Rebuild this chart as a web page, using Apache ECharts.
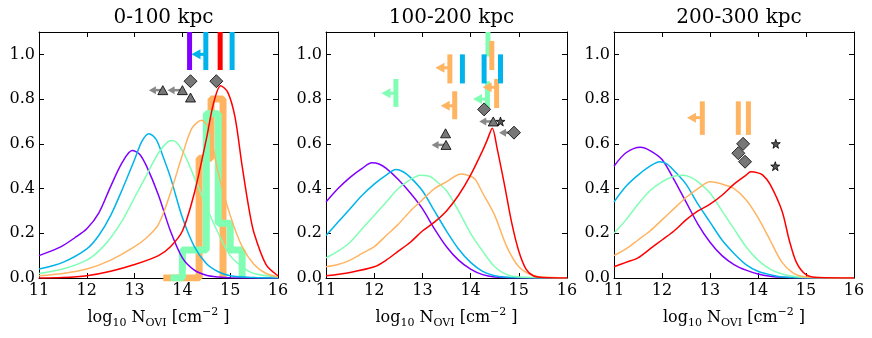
<!DOCTYPE html>
<html><head><meta charset="utf-8">
<script src="https://cdn.jsdelivr.net/npm/echarts@6/dist/echarts.min.js"></script>
<style>html,body{margin:0;padding:0;background:#fff}#c{width:872px;height:338px}</style>
</head><body><div id="c"></div>
<script>
// ---------- data ----------
const panelTitles = ['0-100 kpc', '100-200 kpc', '200-300 kpc'];
const xTicks = [11, 12, 13, 14, 15, 16];
const yTicks = [0.0, 0.2, 0.4, 0.6, 0.8, 1.0];
const curveNames = ['purple', 'blue', 'green', 'orange', 'red'];

// panel 1 (0-100 kpc) distributions [logN, fraction]
const p1Purple = [[11,0.10],[11.25,0.12],[11.5,0.145],[11.75,0.18],[12,0.22],[12.25,0.29],[12.5,0.41],[12.75,0.52],[12.95,0.57],[13.1,0.555],[13.25,0.50],[13.5,0.37],[13.75,0.21],[14,0.09],[14.25,0.035],[14.5,0.012],[14.75,0.004],[15,0.001],[16,0]];
const p1Blue = [[11,0.04],[11.5,0.07],[12,0.13],[12.25,0.19],[12.5,0.28],[12.75,0.40],[13,0.53],[13.15,0.61],[13.3,0.645],[13.45,0.62],[13.6,0.54],[13.75,0.45],[14,0.27],[14.25,0.14],[14.5,0.065],[14.75,0.028],[15,0.01],[15.5,0.002],[16,0]];
const p1Green = [[11,0.02],[11.5,0.04],[12,0.08],[12.25,0.12],[12.5,0.18],[12.75,0.26],[13,0.36],[13.25,0.46],[13.5,0.56],[13.7,0.61],[13.8,0.615],[14,0.57],[14.25,0.45],[14.5,0.32],[14.75,0.20],[15,0.10],[15.25,0.05],[15.5,0.02],[16,0.004]];
const p1Orange = [[11,0.01],[11.5,0.02],[12,0.04],[12.5,0.08],[13,0.14],[13.25,0.18],[13.5,0.24],[13.75,0.38],[14,0.55],[14.2,0.67],[14.4,0.705],[14.55,0.67],[14.75,0.47],[15,0.28],[15.25,0.14],[15.5,0.06],[15.75,0.02],[16,0.005]];
const p1Red = [[11,0.0],[11.5,0.002],[12,0.01],[12.5,0.03],[13,0.06],[13.5,0.10],[13.75,0.14],[14,0.21],[14.25,0.38],[14.5,0.62],[14.65,0.78],[14.8,0.86],[14.95,0.83],[15.1,0.72],[15.25,0.50],[15.4,0.30],[15.5,0.20],[15.75,0.06],[16,0.01]];

// panel 2 (100-200 kpc)
const p2Purple = [[11,0.34],[11.25,0.40],[11.5,0.45],[11.75,0.49],[11.95,0.515],[12.1,0.51],[12.25,0.49],[12.5,0.44],[12.75,0.38],[13,0.31],[13.25,0.22],[13.5,0.14],[13.75,0.08],[14,0.04],[14.25,0.015],[14.5,0.005],[15,0.001],[16,0]];
const p2Blue = [[11,0.19],[11.25,0.25],[11.5,0.31],[11.75,0.37],[12,0.42],[12.25,0.46],[12.45,0.485],[12.6,0.475],[12.75,0.45],[13,0.39],[13.25,0.30],[13.5,0.21],[13.75,0.13],[14,0.07],[14.25,0.03],[14.5,0.01],[14.75,0.003],[16,0]];
const p2Green = [[11,0.09],[11.25,0.12],[11.5,0.16],[11.75,0.22],[12,0.28],[12.25,0.34],[12.5,0.40],[12.75,0.44],[12.95,0.46],[13.15,0.455],[13.25,0.44],[13.5,0.39],[13.75,0.30],[14,0.20],[14.25,0.12],[14.5,0.05],[14.75,0.015],[15,0.004],[16,0]];
const p2Orange = [[11,0.05],[11.25,0.06],[11.5,0.08],[11.75,0.11],[12,0.14],[12.25,0.19],[12.5,0.24],[12.75,0.30],[13,0.35],[13.25,0.40],[13.5,0.43],[13.8,0.465],[14,0.455],[14.1,0.44],[14.25,0.38],[14.5,0.28],[14.75,0.14],[15,0.05],[15.25,0.015],[15.5,0.004],[16,0]];
const p2Red = [[11,0.01],[11.5,0.025],[12,0.05],[12.25,0.08],[12.5,0.12],[12.75,0.16],[13,0.21],[13.25,0.25],[13.5,0.30],[13.75,0.37],[14,0.46],[14.25,0.57],[14.35,0.62],[14.45,0.67],[14.55,0.58],[14.7,0.42],[14.85,0.25],[15,0.12],[15.15,0.04],[15.3,0.01],[15.5,0.002],[16,0]];

// panel 3 (200-300 kpc)
const p3Purple = [[11,0.50],[11.25,0.56],[11.55,0.585],[11.75,0.57],[12,0.53],[12.25,0.44],[12.5,0.34],[12.75,0.24],[13,0.16],[13.25,0.10],[13.5,0.06],[13.75,0.035],[14,0.018],[14.25,0.008],[14.5,0.003],[15,0.0005],[16,0]];
const p3Blue = [[11,0.34],[11.25,0.41],[11.5,0.46],[11.75,0.50],[11.95,0.52],[12.1,0.51],[12.25,0.48],[12.5,0.42],[12.75,0.33],[13,0.25],[13.25,0.17],[13.5,0.11],[13.75,0.06],[14,0.03],[14.25,0.015],[14.5,0.005],[15,0.001],[16,0]];
const p3Green = [[11,0.20],[11.25,0.26],[11.5,0.33],[11.75,0.39],[12,0.43],[12.25,0.455],[12.45,0.46],[12.6,0.45],[12.75,0.43],[13,0.38],[13.25,0.30],[13.5,0.22],[13.75,0.14],[14,0.08],[14.25,0.04],[14.5,0.018],[14.75,0.007],[15,0.002],[16,0]];
const p3Orange = [[11,0.10],[11.25,0.13],[11.5,0.17],[11.75,0.21],[12,0.26],[12.25,0.31],[12.5,0.36],[12.75,0.40],[13,0.43],[13.25,0.42],[13.5,0.40],[13.75,0.35],[14,0.27],[14.25,0.17],[14.5,0.07],[14.75,0.02],[15,0.004],[16,0]];
const p3Red = [[11,0.05],[11.25,0.07],[11.5,0.09],[11.75,0.13],[12,0.17],[12.25,0.21],[12.5,0.26],[12.75,0.30],[13,0.33],[13.25,0.37],[13.5,0.42],[13.75,0.46],[13.85,0.475],[14,0.47],[14.1,0.46],[14.25,0.42],[14.5,0.30],[14.65,0.17],[14.8,0.07],[15,0.015],[15.25,0.002],[16,0]];

// panel 1 histograms: bin edges and heights
const p1OrangeHistEdges = [13.6, 13.85, 14.1, 14.35, 14.6, 14.85];
const p1OrangeHistVals = [0, 0, 0, 0.535, 0.80];
const p1GreenHistEdges = [13.75, 14.0, 14.25, 14.5, 14.75, 15.0, 15.25];
const p1GreenHistVals = [0, 0.125, 0.125, 0.735, 0.245, 0.125];

// vertical bars [x, yLow, yHigh] per colour, and bar arrows [x, y, tipX]
const p1Bars = {purple: [[14.15, 0.93, 1.1]], blue: [[14.49, 0.93, 1.1], [15.04, 0.93, 1.1]], red: [[14.79, 0.93, 1.1]]};
const p1BarArrows = {blue: [[14.49, 1.0, 14.19]]};
const p2Bars = {
  green: [[12.45, 0.765, 0.89], [14.36, 0.99, 1.1], [14.35, 0.76, 0.88]],
  orange: [[13.57, 0.87, 1.0], [13.67, 0.71, 0.835], [14.44, 0.93, 1.06], [14.54, 0.76, 0.89]],
  blue: [[13.83, 0.87, 1.0], [14.28, 0.87, 1.0], [14.62, 0.87, 1.0]]
};
const p2BarArrows = {
  green: [[12.45, 0.826, 12.15], [14.35, 0.80, 14.05]],
  orange: [[13.57, 0.94, 13.27], [13.67, 0.77, 13.38], [14.54, 0.853, 14.25]]
};
const p3Bars = {orange: [[12.84, 0.64, 0.79], [13.59, 0.64, 0.79], [13.80, 0.64, 0.79]]};
const p3BarArrows = {orange: [[12.84, 0.717, 12.52]]};

// grey observational markers [x, y], arrows [x, y, tipX]
const p1Diamonds = [[14.17, 0.88], [14.71, 0.88]];
const p1Triangles = [[13.59, 0.84], [14.0, 0.84], [14.17, 0.807]];
const p1Stars = [];
const p1GreyArrows = [[13.59, 0.84, 13.3], [14.0, 0.84, 13.69]];
const p2Diamonds = [[14.28, 0.754], [14.9, 0.65]];
const p2Triangles = [[14.47, 0.70], [13.48, 0.647], [13.49, 0.595]];
const p2Stars = [[14.62, 0.70]];
const p2GreyArrows = [[14.47, 0.70, 14.18], [14.9, 0.65, 14.59], [13.49, 0.595, 13.19]];
const p3Diamonds = [[13.69, 0.60], [13.59, 0.558], [13.73, 0.52]];
const p3Triangles = [];
const p3Stars = [[14.37, 0.60], [14.36, 0.50]];
const p3GreyArrows = [];

// ---------- chart ----------
const COLORS = {purple: '#8000ff', blue: '#00b4eb', green: '#80ffb4', orange: '#ffb462', red: '#ff0000'};
const FONT = "'DejaVu Serif', serif";
const grids = [
  {left: 39, top: 32, width: 239, height: 246},
  {left: 326, top: 32, width: 241, height: 246},
  {left: 614, top: 32, width: 240, height: 246}
];
const panels = [
  {curves: [p1Purple, p1Blue, p1Green, p1Orange, p1Red], hists: [[p1OrangeHistEdges, p1OrangeHistVals, 'orange'], [p1GreenHistEdges, p1GreenHistVals, 'green']],
   bars: p1Bars, barArrows: p1BarArrows, diamonds: p1Diamonds, triangles: p1Triangles, stars: p1Stars, greyArrows: p1GreyArrows},
  {curves: [p2Purple, p2Blue, p2Green, p2Orange, p2Red], hists: [],
   bars: p2Bars, barArrows: p2BarArrows, diamonds: p2Diamonds, triangles: p2Triangles, stars: p2Stars, greyArrows: p2GreyArrows},
  {curves: [p3Purple, p3Blue, p3Green, p3Orange, p3Red], hists: [],
   bars: p3Bars, barArrows: p3BarArrows, diamonds: p3Diamonds, triangles: p3Triangles, stars: p3Stars, greyArrows: p3GreyArrows}
];

const STAR = 'path://M0,-10L2.35,-3.24L9.51,-3.09L3.8,1.24L5.88,8.09L0,4L-5.88,8.09L-3.8,1.24L-9.51,-3.09L-2.35,-3.24Z';

function stepData(edges, vals) {
  const d = [[edges[0], 0]];
  for (let i = 0; i < vals.length; i++) d.push([edges[i], vals[i]]);
  d.push([edges[edges.length - 1], 0]);
  return d;
}

function barRender(color) {
  return function (params, api) {
    const a = api.coord([api.value(0), api.value(1)]);
    const b = api.coord([api.value(0), api.value(2)]);
    return {type: 'line', shape: {x1: a[0], y1: a[1], x2: b[0], y2: b[1]}, style: {stroke: color, lineWidth: 5}};
  };
}
function arrowRender(color, lw, hl, hw) {
  return function (params, api) {
    const p = api.coord([api.value(0), api.value(1)]);
    const t = api.coord([api.value(2), api.value(1)]);
    return {type: 'group', children: [
      {type: 'line', shape: {x1: p[0], y1: p[1], x2: t[0] + hl - 1, y2: t[1]}, style: {stroke: color, lineWidth: lw}},
      {type: 'polygon', shape: {points: [[t[0], t[1]], [t[0] + hl, t[1] - hw], [t[0] + hl, t[1] + hw]]}, style: {fill: color}}
    ]};
  };
}

const xAxes = [], yAxes = [], series = [], titles = [];
const axisLineStyle = {show: true, lineStyle: {color: '#000', width: 1}, onZero: false};
panels.forEach((p, i) => {
  const g = grids[i];
  titles.push({text: panelTitles[i], left: g.left + g.width / 2, top: 3, textAlign: 'center',
    textStyle: {fontFamily: FONT, fontSize: 20, fontWeight: 'normal', color: '#000'}});
  const xCommon = {gridIndex: i, type: 'value', min: xTicks[0], max: xTicks[xTicks.length - 1], interval: 1,
    splitLine: {show: false}, axisLine: axisLineStyle, axisTick: {inside: true, length: 5, lineStyle: {color: '#000'}}};
  xAxes.push(Object.assign({}, xCommon, {position: 'bottom',
    axisLabel: {fontFamily: FONT, fontSize: 16, color: '#000', margin: 5},
    name: '{n|log}{s|10}{n| N}{s|OVI}{n| [cm}{p|−2}{n| ]}', nameLocation: 'middle', nameGap: 29,
    nameTextStyle: {fontFamily: FONT, fontSize: 16, color: '#000', rich: {
      n: {fontFamily: FONT, fontSize: 16, color: '#000', lineHeight: 22, verticalAlign: 'middle'},
      s: {fontFamily: FONT, fontSize: 11, color: '#000', lineHeight: 11, verticalAlign: 'bottom'},
      p: {fontFamily: FONT, fontSize: 11, color: '#000', lineHeight: 11, verticalAlign: 'top'}
    }}}));
  xAxes.push(Object.assign({}, xCommon, {position: 'top', axisLabel: {show: false}}));
  const yCommon = {gridIndex: i, type: 'value', min: 0, max: 1.1, interval: 0.2,
    splitLine: {show: false}, axisLine: axisLineStyle, axisTick: {inside: true, length: 5, lineStyle: {color: '#000'}}};
  yAxes.push(Object.assign({}, yCommon, {position: 'left',
    axisLabel: {fontFamily: FONT, fontSize: 16, color: '#000', margin: 4, showMaxLabel: false,
      formatter: v => yTicks.some(t => Math.abs(t - v) < 1e-6) ? v.toFixed(1) : ''}}));
  yAxes.push(Object.assign({}, yCommon, {position: 'right', axisLabel: {show: false}}));
  const xi = i * 2, yi = i * 2;
  p.hists.forEach(h => {
    series.push({type: 'line', xAxisIndex: xi, yAxisIndex: yi, step: 'end', data: stepData(h[0], h[1]),
      showSymbol: false, lineStyle: {color: COLORS[h[2]], width: 7}, z: 1, silent: true});
  });
  p.curves.forEach((c, k) => {
    series.push({type: 'line', xAxisIndex: xi, yAxisIndex: yi, data: c, smooth: 0.3, showSymbol: false,
      lineStyle: {color: COLORS[curveNames[k]], width: 1.5}, z: 2, silent: true});
  });
  Object.keys(p.bars).forEach(col => {
    series.push({type: 'custom', xAxisIndex: xi, yAxisIndex: yi, data: p.bars[col], encode: {x: 0, y: [1, 2]},
      renderItem: barRender(COLORS[col]), z: 3, silent: true});
  });
  Object.keys(p.barArrows).forEach(col => {
    series.push({type: 'custom', xAxisIndex: xi, yAxisIndex: yi, data: p.barArrows[col], encode: {x: [0, 2], y: 1},
      renderItem: arrowRender(COLORS[col], 3, 9, 5), z: 3, silent: true});
  });
  if (p.greyArrows.length) series.push({type: 'custom', xAxisIndex: xi, yAxisIndex: yi, data: p.greyArrows, encode: {x: [0, 2], y: 1},
    renderItem: arrowRender('#888888', 2.5, 7, 4), z: 4, silent: true});
  const mk = (data, sym, size, fill) => ({type: 'scatter', xAxisIndex: xi, yAxisIndex: yi, data: data, symbol: sym, symbolSize: size,
    itemStyle: {color: fill, borderColor: '#000', borderWidth: 0.8, opacity: 1}, z: 5, silent: true});
  if (p.diamonds.length) series.push(mk(p.diamonds, 'diamond', [13, 13], '#777777'));
  if (p.triangles.length) series.push(mk(p.triangles, 'triangle', [10, 9], '#777777'));
  if (p.stars.length) series.push(mk(p.stars, STAR, 9, '#555555'));
});

const chart = echarts.init(document.getElementById('c'), null, {renderer: 'canvas'});
chart.setOption({animation: false, backgroundColor: '#fff', title: titles, grid: grids, xAxis: xAxes, yAxis: yAxes, series: series});
</script>
</body></html>
